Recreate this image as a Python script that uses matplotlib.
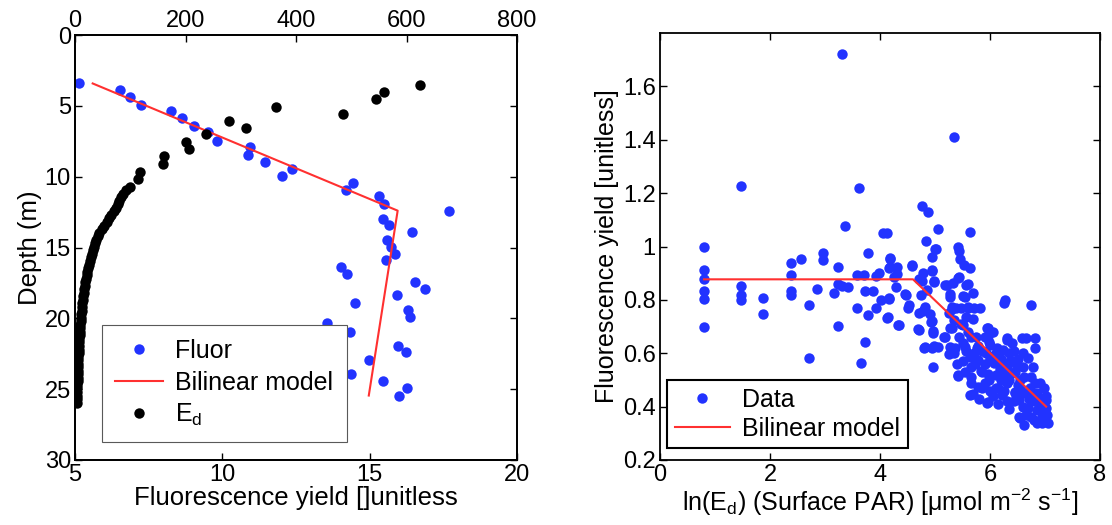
import matplotlib.pyplot as plt
from matplotlib.lines import Line2D

plt.rcParams['font.family'] = ['Liberation Sans', 'DejaVu Sans']
plt.rcParams['mathtext.default'] = 'regular'
plt.rcParams['font.size'] = 17

BLUE = '#2233ff'
RED = '#ff3030'
MS = 7.5

# left panel: fluorescence yield profile
fluor_depth = [3.42, 3.89, 4.41, 4.95, 5.35, 5.89, 6.43, 6.88, 7.49, 7.9, 8.48, 8.96,
               9.97, 9.43, 10.44, 10.91, 11.38, 11.9, 12.44, 12.96, 13.43, 13.9, 14.45,
               14.97, 15.44, 15.91, 16.38, 16.9, 17.44, 17.91, 18.38, 18.93, 19.4, 19.91,
               20.34, 21.45, 20.93, 21.92, 22.39, 22.91, 23.92, 24.39, 24.91, 25.45]
fluor = [5.12, 6.54, 6.87, 7.24, 8.25, 8.63, 9.05, 9.5, 9.83, 10.93, 10.87, 11.44,
         12.04, 12.35, 14.43, 14.19, 15.3, 15.5, 17.7, 15.44, 15.67, 16.45, 15.59,
         15.74, 15.86, 15.56, 14.04, 14.22, 16.54, 16.88, 15.93, 14.5, 16.3, 16.36,
         13.55, 13.85, 14.33, 15.97, 16.22, 14.98, 14.36, 15.44, 16.28, 16.0]

model_fluor = [5.6, 15.95, 14.97]
model_depth = [3.42, 12.4, 25.45]

# downwelling irradiance (top axis)
ed_depth = [3.54, 4.0, 4.53, 5.07, 5.59, 6.06, 6.55, 7.02, 7.54, 8.08, 8.56, 9.12,
            9.66, 10.18,
            10.7, 10.95, 11.2, 11.45, 11.7, 11.95, 12.2, 12.45, 12.7, 12.95, 13.2,
            13.45, 13.7, 13.95, 14.2, 14.45, 14.7, 14.95, 15.2, 15.45, 15.7, 15.95,
            16.2, 16.45, 16.7, 16.95, 17.2, 17.45, 17.7, 17.95, 18.2, 18.45, 18.7,
            18.95, 19.2, 19.45, 19.7, 19.95, 20.2, 20.45, 20.7, 20.95, 21.2, 21.45,
            21.7, 21.95, 22.2, 22.45, 22.7, 22.95, 23.2, 23.45, 23.7, 23.95, 24.2,
            24.45, 24.7, 24.95, 25.2, 25.45, 25.7, 25.95]
ed = [624, 559, 545, 364, 485, 279, 309, 237, 201, 206, 161, 159,
      117, 114,
      100, 92, 86, 83, 80, 77, 74, 70, 66, 62, 58,
      53, 48, 44, 41, 38, 36, 34, 32, 30, 28.5, 27,
      25.5, 24, 22.5, 21, 20, 19, 18, 17, 16, 15, 14,
      13.3, 12.6, 12, 11.4, 10.8, 10.2, 9.7, 9.2, 8.7, 8.3, 7.9,
      7.5, 7.1, 6.8, 6.5, 6.2, 5.9, 5.6, 5.4, 5.2, 5.0, 4.8,
      4.6, 4.5, 4.4, 4.3, 4.2, 4.1, 4.0]

# right panel: yield vs ln(Ed)
par_x = [0.8, 0.8, 0.8, 0.8, 0.8, 0.8,
         1.48, 1.48, 1.48, 1.48, 1.88, 1.88,
         2.39, 2.39, 2.39, 2.39, 2.56, 2.71, 2.71, 2.85, 2.97, 2.97, 3.16,
         3.24, 3.24, 3.24, 3.30, 3.36, 3.30, 3.41, 3.62, 3.58, 3.71, 3.58, 3.65,
         3.73, 3.87, 3.79, 3.73, 3.79, 3.92, 3.92, 4.05, 4.12, 4.01,
         3.98, 4.13, 4.16, 4.19, 4.16, 4.30, 4.26, 4.29, 4.32, 4.47, 4.51, 4.58,
         4.70, 4.74, 4.70, 4.8, 4.70, 4.80, 4.94, 4.98, 4.86, 4.94, 4.97, 4.95,
         4.97, 5.06,
         5.34, 4.77, 4.88, 5.06, 5.63, 4.83, 5.0, 4.94, 5.41, 5.43, 5.46, 5.52, 5.63,
         5.22, 5.28, 5.25, 5.31, 5.34, 5.28, 5.18, 5.28, 5.34, 5.41, 5.43, 5.57,
         5.54, 5.60, 5.70, 5.57, 5.50, 5.44, 5.66, 5.54, 5.63, 5.76, 5.79, 5.66,
         5.86, 5.63, 5.79, 5.95, 5.98, 5.92, 6.08, 5.98, 5.95, 6.14, 6.27, 6.26,
         6.30, 6.24, 6.34, 6.40, 6.30, 6.21, 6.46, 6.53, 6.66, 6.82, 6.75, 6.82,
         6.69, 6.78, 6.62, 6.82, 6.98, 7.01, 6.91, 7.04, 6.94, 6.62, 6.53, 6.75,
         6.85, 7.01, 6.69,
         5.01, 4.18, 4.19, 4.59, 4.78, 4.95, 4.77, 4.99, 4.31, 5.19, 4.16, 4.46,
         4.52, 4.81,
         4.15, 4.34, 4.69, 4.93, 4.96, 5.16, 4.81, 4.99, 5.25, 4.78, 4.90,
         5.41, 5.33, 5.60, 5.69, 5.27, 5.51, 5.39, 5.60,
         5.30, 5.48, 5.81, 5.30, 5.48, 5.69, 5.96, 5.96, 6.31, 6.58, 5.36, 5.57,
         5.78, 6.13, 6.43, 5.42, 5.72, 5.84, 5.96, 6.19, 6.40, 6.49, 5.69, 5.96,
         6.25, 6.43, 6.55, 5.66,
         6.85, 6.9, 6.95, 7.0, 6.7, 6.6, 6.5, 6.55, 6.35, 6.2, 6.1, 6.0, 6.1, 6.2,
         6.5, 6.6, 6.4, 5.9, 5.85, 6.05, 6.15, 6.35, 6.65, 6.8, 6.95, 7.05, 6.3,
         6.0, 5.5, 5.4, 5.7, 5.9, 6.05, 6.45, 6.75, 6.9, 6.55, 6.72,
         5.5, 5.6, 5.75, 5.85, 5.9, 6.0, 6.1, 6.2, 6.3, 6.45, 6.6, 6.7, 6.8, 6.9,
         5.55, 5.65, 5.8, 6.05, 6.25, 6.35, 6.6, 6.85, 7.02, 6.98]
par_y = [1.0, 0.913, 0.878, 0.832, 0.803, 0.70,
         1.225, 0.851, 0.82, 0.80, 0.807, 0.748,
         0.94, 0.895, 0.832, 0.82, 0.955, 0.782, 0.583, 0.839, 0.977, 0.948, 0.824,
         0.923, 0.86, 0.703, 1.72, 1.078, 0.851, 0.847, 1.22, 0.895, 0.895, 0.769, 0.564,
         0.832, 0.832, 0.977, 0.643, 0.744, 0.769, 0.889, 1.05, 1.05, 0.80,
         0.90, 0.731, 0.806, 0.956, 0.919, 0.925, 0.887, 0.85, 0.706, 0.819, 0.769, 0.927,
         0.88, 0.819, 0.75, 0.763, 0.688, 0.619, 0.912, 0.869, 0.838, 0.719, 0.675, 0.619,
         0.55, 0.625,
         1.41, 1.15, 1.13, 1.065, 1.056, 1.02, 0.99, 0.96, 1.0, 0.985, 0.955, 0.93, 0.92,
         0.856, 0.8125, 0.75, 0.775, 0.725, 0.694, 0.6625, 0.625, 0.60, 0.519, 0.887, 0.856,
         0.8125, 0.775, 0.769, 0.7375, 0.706, 0.6625, 0.6625, 0.625, 0.5875, 0.619, 0.575, 0.55,
         0.531, 0.444, 0.475, 0.694, 0.644, 0.60, 0.5625, 0.50, 0.4125, 0.469, 0.80, 0.7875,
         0.65, 0.6125, 0.569, 0.525, 0.4875, 0.444, 0.456, 0.425, 0.656, 0.656, 0.781, 0.619,
         0.581, 0.55, 0.5125, 0.4875, 0.469, 0.425, 0.40, 0.369, 0.3375, 0.33, 0.3625, 0.3625,
         0.3875, 0.394, 0.394,
         0.991, 0.954, 0.9225, 0.929, 0.90, 0.9075, 0.8725, 0.866, 0.8975, 0.854, 0.804, 0.8225,
         0.779, 0.7725,
         0.735, 0.704, 0.691, 0.716, 0.685, 0.66, 0.6225, 0.629, 0.5975, 0.76, 0.7475,
         0.8835, 0.865, 0.8585, 0.827, 0.821, 0.815, 0.771, 0.771,
         0.765, 0.77, 0.77, 0.695, 0.709, 0.727, 0.696, 0.665, 0.6585, 0.6585, 0.621, 0.6085,
         0.6275, 0.621, 0.6085, 0.5145, 0.5585, 0.5335, 0.521, 0.54, 0.571, 0.552, 0.4475, 0.416,
         0.4585, 0.421, 0.3585, 0.49,
         0.45, 0.43, 0.41, 0.38, 0.43, 0.45, 0.48, 0.50, 0.50, 0.50, 0.52, 0.58, 0.60, 0.58,
         0.58, 0.60, 0.64, 0.56, 0.47, 0.44, 0.41, 0.39, 0.37, 0.35, 0.36, 0.34, 0.42,
         0.46, 0.57, 0.56, 0.60, 0.66, 0.68, 0.53, 0.51, 0.49, 0.47, 0.47,
         0.64, 0.68, 0.66, 0.61, 0.49, 0.63, 0.47, 0.57, 0.55, 0.45, 0.55, 0.44, 0.42, 0.41,
         0.53, 0.51, 0.43, 0.59, 0.52, 0.6, 0.4, 0.34, 0.44, 0.35]

model2_x = [0.8, 4.6, 7.02]
model2_y = [0.877, 0.877, 0.40]

W, H = 1112, 525
fig = plt.figure(figsize=(W / 100, H / 100), dpi=100)


def style_axes(ax):
    for s in ax.spines.values():
        s.set_linewidth(1.3)
    ax.tick_params(direction='in', length=5, width=1.0, labelsize=17)


# ---- left panel
ax1 = fig.add_axes([75 / W, 1 - 460 / H, (517 - 75) / W, (460 - 35) / H])
ax1.plot(fluor, fluor_depth, 'o', color=BLUE, ms=MS, mec='none', label='Fluor')
ax1.plot(model_fluor, model_depth, '-', color=RED, lw=1.5, label='Bilinear model')
ax1.set_xlim(5, 20)
ax1.set_ylim(30, 0)
ax1.set_xticks([5, 10, 15, 20])
ax1.set_yticks([0, 5, 10, 15, 20, 25, 30])
ax1.set_xlabel('Fluorescence yield []unitless', fontsize=18.5, labelpad=0)
ax1.set_ylabel('Depth (m)', fontsize=18.5, labelpad=2)
style_axes(ax1)
ax1.tick_params(right=True, top=False, pad=3)

ax1t = ax1.twiny()
ax1t.plot(ed, ed_depth, 'o', color='k', ms=MS, mec='none', label=r'E$_d$')
ax1t.set_xlim(0, 800)
ax1t.set_xticks([0, 200, 400, 600, 800])
style_axes(ax1t)
ax1t.tick_params(pad=2)

handles = [Line2D([], [], ls='none', marker='o', color=BLUE, ms=MS, mec='none'),
           Line2D([], [], color=RED, lw=1.5),
           Line2D([], [], ls='none', marker='o', color='k', ms=MS, mec='none')]
leg1 = ax1t.legend(handles, ['Fluor', 'Bilinear model', r'E$_d$'],
                   loc='lower left', bbox_to_anchor=(0.06, 0.042),
                   borderaxespad=0, fancybox=False, framealpha=1,
                   edgecolor='0.35', fontsize=18, handlelength=1.9,
                   labelspacing=0.3, borderpad=0.55, handletextpad=0.5)
leg1.get_frame().set_linewidth(0.8)

# ---- right panel
ax2 = fig.add_axes([660 / W, 1 - 460 / H, (1100 - 660) / W, (460 - 33) / H])
ax2.plot(par_x, par_y, 'o', color=BLUE, ms=MS, mec='none', label='Data')
ax2.plot(model2_x, model2_y, '-', color=RED, lw=1.5, label='Bilinear model')
ax2.set_xlim(0, 8)
ax2.set_ylim(0.2, 1.8)
ax2.set_xticks([0, 2, 4, 6, 8])
ax2.set_yticks([0.2, 0.4, 0.6, 0.8, 1.0, 1.2, 1.4, 1.6])
ax2.set_yticklabels(['0.2', '0.4', '0.6', '0.8', '1', '1.2', '1.4', '1.6'])
ax2.set_xlabel(r'ln(E$_d$) (Surface PAR) [μmol m$^{-2}$ s$^{-1}$]', fontsize=18, labelpad=0)
ax2.set_ylabel('Fluorescence yield [unitless]', fontsize=18, labelpad=3)
style_axes(ax2)
ax2.tick_params(right=True, top=True, pad=3)
leg2 = ax2.legend(loc='lower left', bbox_to_anchor=(0.016, 0.027), borderaxespad=0,
                  fancybox=False, framealpha=1, edgecolor='k', fontsize=18,
                  handlelength=2.2, labelspacing=0.2, borderpad=0.3,
                  handletextpad=0.5)
leg2.get_frame().set_linewidth(1.5)

fig.savefig('out.png', dpi=100)
